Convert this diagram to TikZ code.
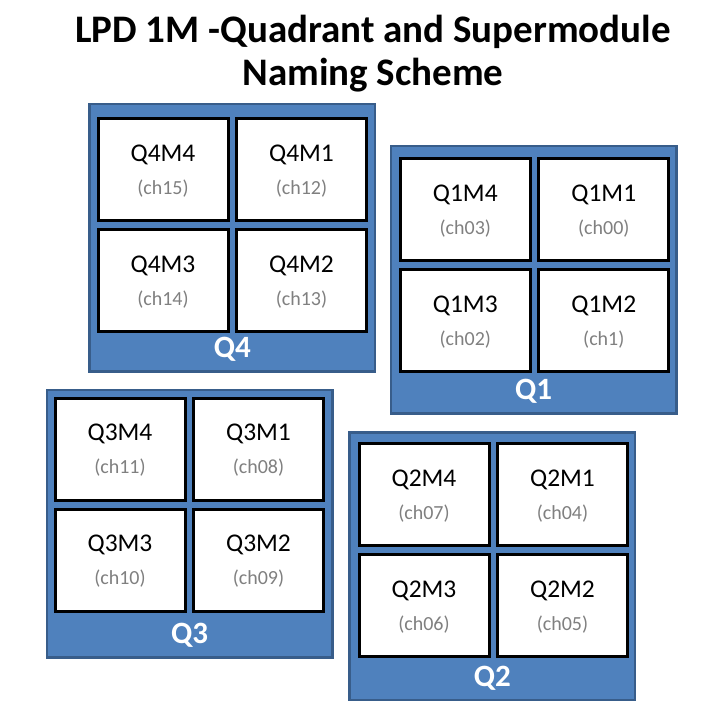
\documentclass[tikz,border=0pt]{standalone}
\usepackage{fontspec}
\setmainfont{Carlito}
\definecolor{quadfill}{HTML}{4F81BD}
\definecolor{quadline}{HTML}{385D8A}
\definecolor{changrey}{HTML}{808080}
\tikzset{
	quad/.style={draw=quadline, line width=2.5pt, fill=quadfill, anchor=north west,
		minimum width=285.5pt, minimum height=267.5pt, inner sep=0pt},
	module/.style={draw=black, line width=3pt, fill=white, anchor=north west,
		minimum width=130pt, minimum height=102pt, inner sep=0pt},
	mname/.style={anchor=base, inner sep=0pt, font=\fontsize{25.5}{30}\selectfont},
	chname/.style={anchor=base, inner sep=0pt, text=changrey, font=\fontsize{20}{24}\selectfont},
	qname/.style={anchor=base, inner sep=0pt, text=white, font=\fontsize{31}{36}\selectfont\bfseries},
	title/.style={anchor=base, align=center, inner sep=0pt, font=\fontsize{39}{43}\selectfont\bfseries},
}
\begin{document}
\begin{tikzpicture}[x=1pt, y=1pt]
	\useasboundingbox (0, 0) rectangle (723, -727);
	\node[title] (title) at (373, -86) {LPD 1M -Quadrant and Supermodule\\Naming Scheme};
	% quadrant / top-left corner / first module corner / channels M4 M1 M3 M2
	\foreach \q/\xa/\ya/\mx/\my/\ca/\cb/\cc/\cd in {
		4/87/101.7/95/115.7/15/12/14/13,
		1/388.3/143.3/397.3/155.7/03/00/02/1,
		3/44.3/387.3/52/395.3/11/08/10/09,
		2/347/430/356/440.7/07/04/06/05} {
		\node[quad] (Q\q) at (\xa+1.25, -\ya-1.25) {};
		\node[qname] (Q\q-name) at ([yshift=15pt]Q\q.south) {Q\q};
		\foreach \m/\c/\r/\ch in {4/0/0/\ca, 1/1/0/\cb, 3/0/1/\cc, 2/1/1/\cd} {
			\node[module] (Q\q M\m) at (\mx+1.5+138.5*\c, -\my-1.5-111*\r) {};
			\node[mname] (Q\q M\m-name) at ([yshift=-44pt]Q\q M\m.north) {Q\q M\m};
			\node[chname] (Q\q M\m-ch) at ([yshift=-77pt]Q\q M\m.north) {(ch\ch)};
		}
	}
\end{tikzpicture}
\end{document}
